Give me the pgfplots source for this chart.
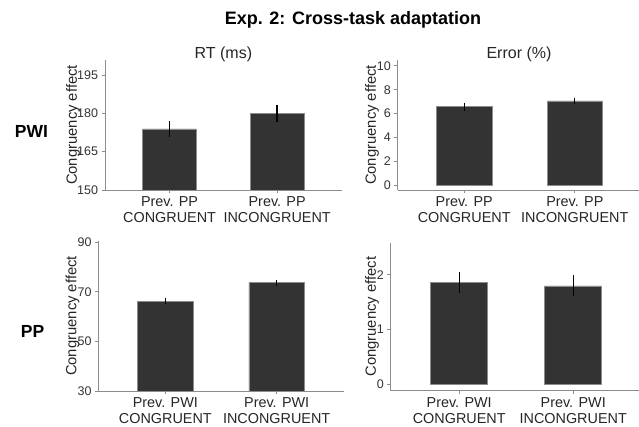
\documentclass[border=0pt]{standalone}
\usepackage{fontspec}
\setmainfont{Liberation Sans}
\usepackage{pgfplots}
\pgfplotsset{compat=1.18}
\pgfplotsset{
 panel/.style={
  scale only axis, axis lines=left,
  axis line style={-, draw=black!45, line width=0.9pt},
  tick style={draw=black!45, line width=0.9pt},
  tick align=outside, major tick length=3.5pt,
  xtick={1,2}, xmin=0.4,
  /pgf/number format/assume math mode=true,
  yticklabel style={font=\fontsize{12.5}{14}\selectfont, text=black!80},
  xticklabel style={align=center, font=\fontsize{14.4}{15.5}\selectfont, text=black!85},
  ylabel={Congruency effect},
  ylabel style={at={(axis description cs:#1,0.5)}, anchor=center, font=\fontsize{14.8}{16}\selectfont, text=black!85},
  anchor=south west,
 },
 barstyle/.style={ybar, bar width=0.5, fill=black!80, draw=black!45, line width=0.6pt,
  error bars/.cd, y dir=both, y explicit,
  error bar style={line width=1.3pt, black}, error mark=none},
}
\begin{document}
\begin{tikzpicture}
\path[use as bounding box] (0pt,0pt) rectangle (639pt,427pt);
\clip (0pt,0pt) rectangle (639pt,427pt);

% Top-left: PWI, RT
\begin{axis}[panel=-0.135, at={(105pt,237pt)}, width=236.7pt, height=130pt,
  xmax=2.6, ymin=150, ymax=200.9, ytick={150,165,180,195},
  xticklabels={{Prev. PP\\CONGRUENT},{Prev. PP\\INCONGRUENT}}]
\addplot[barstyle] coordinates {(1,173.9) +- (0,3.3) (2,180.0) +- (0,3.4)};
\end{axis}

% Top-right: PWI, Error
\begin{axis}[panel=-0.107, at={(397.8pt,237pt)}, width=241.2pt, height=130pt,
  xmax=2.58, ymin=-0.42, ymax=10.5, ytick={0,2,4,6,8,10},
  xticklabels={{Prev. PP\\CONGRUENT},{Prev. PP\\INCONGRUENT}}]
\addplot[barstyle] coordinates {(1,6.58) +- (0,0.33) (2,7.06) +- (0,0.25)};
\end{axis}

% Bottom-left: PP, RT
\begin{axis}[panel=-0.106, at={(98.5pt,36pt)}, width=245pt, height=150pt,
  xmax=2.6, ymin=30, ymax=90.5, ytick={30,50,70,90},
  xticklabels={{Prev. PWI\\CONGRUENT},{Prev. PWI\\INCONGRUENT}}]
\addplot[barstyle] coordinates {(1,66.2) +- (0,1.25) (2,73.7) +- (0,1.25)};
\end{axis}

% Bottom-right: PP, Error
\begin{axis}[panel=-0.076, at={(390.8pt,36.3pt)}, width=248.2pt, height=148pt,
  xmax=2.577, ymin=-0.12, ymax=2.59, ytick={0,1,2},
  xticklabels={{Prev. PWI\\CONGRUENT},{Prev. PWI\\INCONGRUENT}}]
\addplot[barstyle] coordinates {(1,1.86) +- (0,0.19) (2,1.80) +- (0,0.19)};
\end{axis}

\node[font=\bfseries\fontsize{18}{20}\selectfont] at (353pt,407pt) {Exp. 2: Cross-task adaptation};
\node[font=\fontsize{16}{18}\selectfont, text=black!85] at (223.4pt,373pt) {RT (ms)};
\node[font=\fontsize{16}{18}\selectfont, text=black!85] at (519pt,373pt) {Error (\%)};
\node[font=\bfseries\fontsize{17.5}{19}\selectfont] at (31.5pt,295.3pt) {PWI};
\node[font=\bfseries\fontsize{17.5}{19}\selectfont] at (32.5pt,95.3pt) {PP};
\end{tikzpicture}
\end{document}
